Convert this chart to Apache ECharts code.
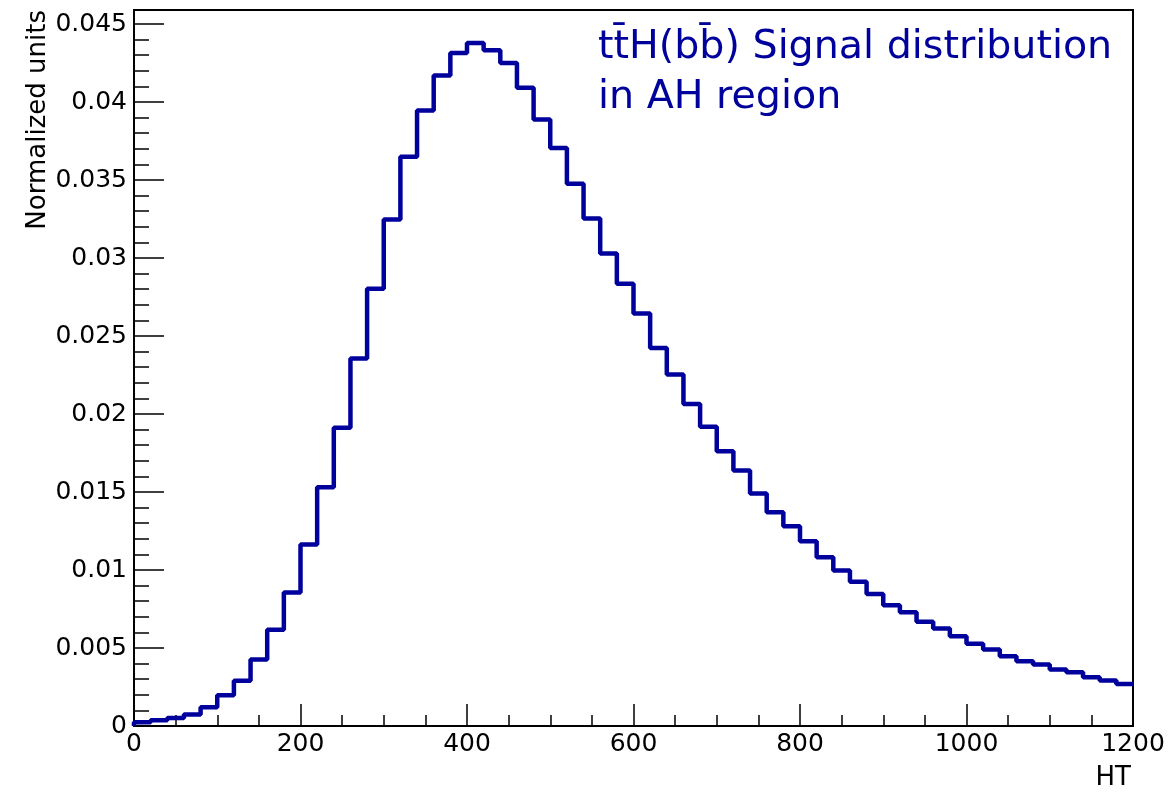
<!DOCTYPE html>
<html>
<head>
<meta charset="utf-8">
<script src="https://cdn.jsdelivr.net/npm/echarts@6/dist/echarts.min.js"></script>
<style>html,body{margin:0;padding:0;background:#fff;}#chart{width:1168px;height:792px;}</style>
</head>
<body>
<div id="chart"></div>
<script>
// Histogram of HT, 60 bins of width 20 from 0 to 1200
const binLowEdges = [
  0, 20, 40, 60, 80, 100, 120, 140, 160, 180,
  200, 220, 240, 260, 280, 300, 320, 340, 360, 380,
  400, 420, 440, 460, 480, 500, 520, 540, 560, 580,
  600, 620, 640, 660, 680, 700, 720, 740, 760, 780,
  800, 820, 840, 860, 880, 900, 920, 940, 960, 980,
  1000, 1020, 1040, 1060, 1080, 1100, 1120, 1140, 1160, 1180
];
const histUpperEdge = 1200;
const binContent = [
  0.00024, 0.00037, 0.00052, 0.00074, 0.00120, 0.00197, 0.00290, 0.00426, 0.00617, 0.00856,
  0.01163, 0.01531, 0.01912, 0.02356, 0.02803, 0.03247, 0.03649, 0.03946, 0.04170, 0.04315,
  0.04379, 0.04332, 0.04251, 0.04091, 0.03888, 0.03706, 0.03476, 0.03253, 0.03029, 0.02835,
  0.02644, 0.02424, 0.02253, 0.02065, 0.01918, 0.01762, 0.01638, 0.01490, 0.01371, 0.01281,
  0.01185, 0.01082, 0.00997, 0.00924, 0.00847, 0.00774, 0.00730, 0.00668, 0.00625, 0.00576,
  0.00527, 0.00490, 0.00447, 0.00415, 0.00394, 0.00362, 0.00345, 0.00313, 0.00292, 0.00270
];
const xTitle = 'HT';
const yTitle = 'Normalized units';
const plotTitle = 'tt\u0304H(bb\u0304) Signal distribution\nin AH region';
const xRange = [0, 1200];
const xTickStep = 200;
const yFrameMax = 0.0459;   // histogram frame top
const yTickMax = 0.045;     // last labelled tick
const yTickStep = 0.005;

// step outline points
const outline = [[binLowEdges[0], 0]];
for (let i = 0; i < binLowEdges.length; i++) outline.push([binLowEdges[i], binContent[i]]);
outline.push([histUpperEdge, binContent[binContent.length - 1]]);

const FONT = 'DejaVu Sans';
const BLUE = '#00009c';
const L = 134, R = 35, T = 10, B = 66;
const plotH = 792 - T - B;
const tickGridTop = (792 - B) - plotH * yTickMax / yFrameMax;

const chart = echarts.init(document.getElementById('chart'), null, {renderer: 'canvas'});
chart.setOption({
  animation: false,
  backgroundColor: '#fff',
  title: {
    text: plotTitle,
    left: 593, top: 18,
    textStyle: {fontFamily: FONT, fontSize: 39.6, fontWeight: 'normal', color: BLUE, lineHeight: 50}
  },
  grid: [
    {left: L, right: R, top: T, bottom: B, show: true, borderColor: '#000', borderWidth: 2,
     backgroundColor: 'transparent', containLabel: false, outerBoundsMode: 'none'},
    {left: L, right: R, top: tickGridTop, bottom: B, show: false, containLabel: false, outerBoundsMode: 'none'}
  ],
  xAxis: [
    {
      type: 'value', gridIndex: 0, min: xRange[0], max: xRange[1], interval: xTickStep,
      name: xTitle, nameLocation: 'end', nameGap: 0,
      nameTextStyle: {fontFamily: FONT, fontSize: 26, color: '#000', align: 'right', verticalAlign: 'top', padding: [39, 2, 0, 0]},
      axisLine: {show: true, onZero: false, lineStyle: {color: '#000', width: 2}},
      axisTick: {show: true, inside: true, length: 22, lineStyle: {color: '#000', width: 1.5}},
      minorTick: {show: true, splitNumber: 4, length: 11, lineStyle: {color: '#000', width: 1.5}},
      axisLabel: {fontFamily: FONT, fontSize: 25, color: '#000', margin: 6, formatter: v => String(v)},
      splitLine: {show: false}
    },
    {type: 'value', gridIndex: 1, min: xRange[0], max: xRange[1], show: false}
  ],
  yAxis: [
    {
      type: 'value', gridIndex: 0, min: 0, max: yFrameMax,
      axisLine: {show: false}, axisTick: {show: false}, axisLabel: {show: false}, splitLine: {show: false}
    },
    {
      type: 'value', gridIndex: 1, min: 0, max: yTickMax, interval: yTickStep,
      name: yTitle, nameLocation: 'end', nameGap: tickGridTop - T, nameRotate: 90,
      nameTextStyle: {fontFamily: FONT, fontSize: 26, color: '#000', align: 'right', verticalAlign: 'bottom', padding: [0, 0, 83, 0]},
      axisLine: {show: false},
      axisTick: {show: true, inside: true, length: 30, lineStyle: {color: '#000', width: 1.5}},
      minorTick: {show: true, splitNumber: 5, length: 15, lineStyle: {color: '#000', width: 1.5}},
      axisLabel: {fontFamily: FONT, fontSize: 25, color: '#000', margin: 7,
        formatter: v => String(+v.toFixed(4))},
      splitLine: {show: false}
    }
  ],
  series: [{
    type: 'line', xAxisIndex: 0, yAxisIndex: 0,
    step: 'end', data: outline, showSymbol: false, symbol: 'none',
    lineStyle: {color: BLUE, width: 4.5}, clip: true
  }]
});
</script>
</body>
</html>
